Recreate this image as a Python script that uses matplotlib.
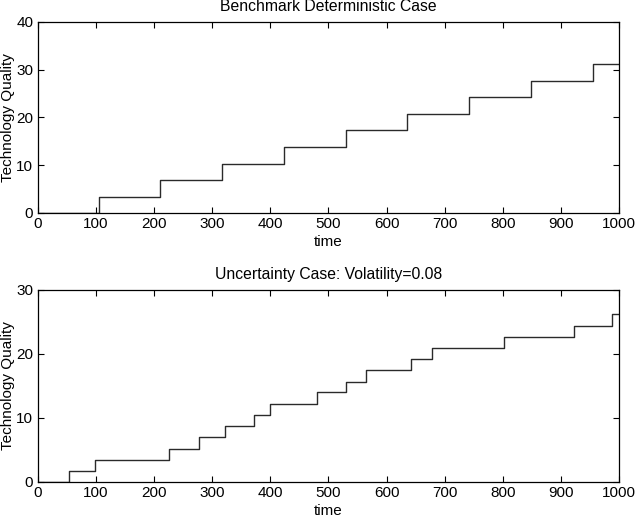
import matplotlib
matplotlib.use("Agg")
import matplotlib.pyplot as plt

plt.rcParams['font.family'] = ['Liberation Sans', 'DejaVu Sans']

# deterministic case: jump times and quality levels
det_time = [0, 105.7, 211, 317.5, 423, 529.5, 635, 741.5, 848, 954, 1000]
det_quality = [0, 3.45, 6.9, 10.35, 13.8, 17.3, 20.7, 24.2, 27.6, 31.1, 31.1]

# uncertainty case, volatility 0.08
unc_time = [0, 54.6, 98, 226, 277, 323, 372, 399, 481, 531, 565, 642, 678,
            802, 922, 987, 1000]
unc_quality = [0, 1.73, 3.45, 5.2, 7.0, 8.7, 10.45, 12.2, 14.0, 15.7, 17.5,
               19.2, 20.9, 22.7, 24.4, 26.2, 26.2]

x_ticks = [0, 100, 200, 300, 400, 500, 600, 700, 800, 900, 1000]


def style_axes(ax, ymax, ystep):
    ax.set_xlim(0, 1000)
    ax.set_ylim(0, ymax)
    ax.set_xticks(x_ticks)
    ax.set_yticks(range(0, ymax + 1, ystep))
    ax.tick_params(direction="in", top=True, right=True, length=4,
                   width=0.8, labelsize=11, pad=3)
    for s in ax.spines.values():
        s.set_linewidth(0.9)
    ax.set_xlabel("time", fontsize=11, labelpad=3)
    ax.set_ylabel("Technology Quality", fontsize=11, labelpad=1)


fig = plt.figure(figsize=(6.38, 5.21), dpi=100)

ax1 = fig.add_axes([0.0588, 0.5912, 0.912, 0.3666])
ax1.step(det_time, det_quality, where="post", color="#2a2a2a", lw=1.0)
style_axes(ax1, 40, 10)
ax1.set_title("Benchmark Deterministic Case", fontsize=11.3, pad=8)

ax2 = fig.add_axes([0.0588, 0.0749, 0.912, 0.3685])
ax2.step(unc_time, unc_quality, where="post", color="#2a2a2a", lw=1.0)
style_axes(ax2, 30, 10)
ax2.set_title("Uncertainty Case: Volatility=0.08", fontsize=11.3, pad=8)

fig.savefig("out.png", dpi=100)
